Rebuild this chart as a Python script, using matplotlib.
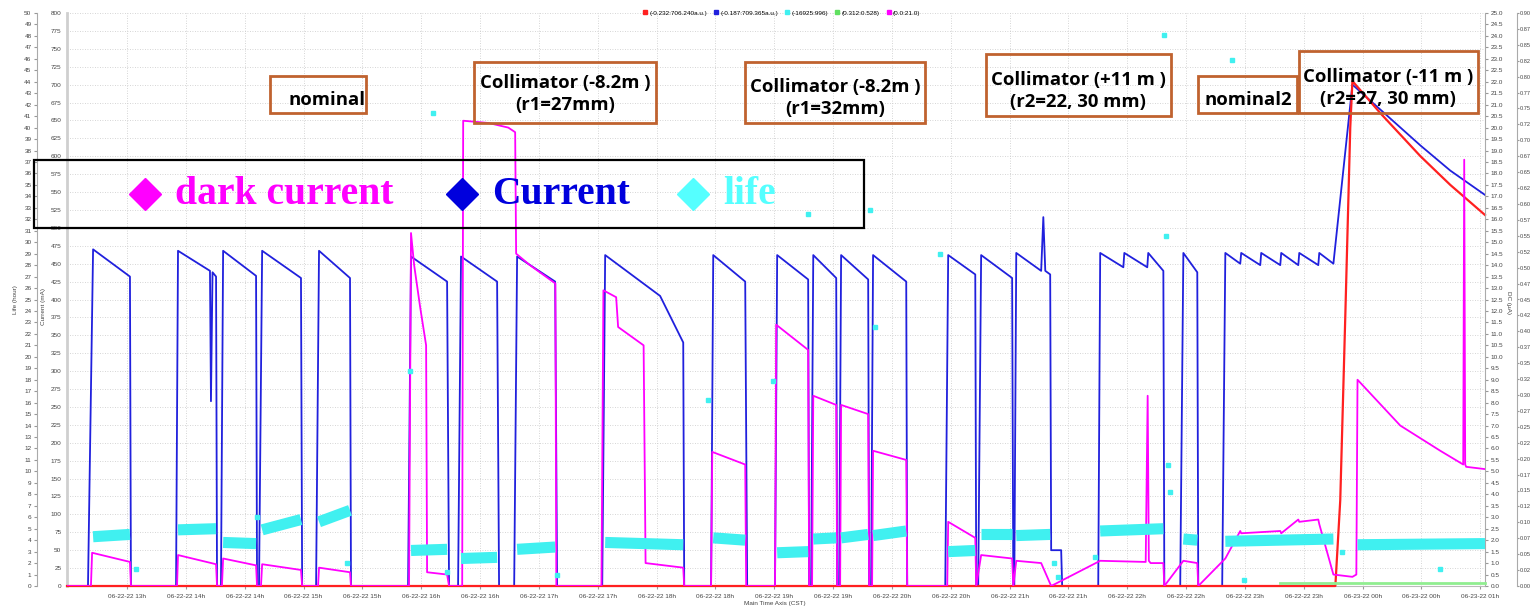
import matplotlib
matplotlib.use("Agg")
import matplotlib.pyplot as plt
from matplotlib.lines import Line2D
from matplotlib.patches import Rectangle

# ---------------- data (time in minutes from left edge of the axis) ----------------
tick_labels = ["06-22-22 13h", "06-22-22 14h", "06-22-22 14h", "06-22-22 15h", "06-22-22 15h",
               "06-22-22 16h", "06-22-22 16h", "06-22-22 17h", "06-22-22 17h", "06-22-22 18h",
               "06-22-22 18h", "06-22-22 19h", "06-22-22 19h", "06-22-22 20h", "06-22-22 20h",
               "06-22-22 21h", "06-22-22 21h", "06-22-22 22h", "06-22-22 22h", "06-22-22 23h",
               "06-22-22 23h", "06-23-22 00h", "06-23-22 00h", "06-23-22 01h"]
tick_minutes = [30.6 + 30 * i for i in range(len(tick_labels))]

# Current (mA), blue
blue_t = [0, 10.7, 13.3, 32.1, 32.6, 55.6, 56.6, 72.9, 73.4, 74.2, 76.0, 76.5,
          78.5, 79.6, 96.4, 96.9, 97.9, 99.5, 119.3, 119.9, 127.0, 128.5, 144.3, 144.8,
          173.9, 175.4, 193.8, 194.8, 199.4, 200.9, 219.3, 220.3, 228.0, 229.5, 248.9, 249.9,
          272.9, 274.4, 302.4, 314.2, 314.7, 328.4, 329.5, 345.8, 346.8, 361.0, 362.1, 377.9,
          378.4, 379.4, 380.5, 392.2, 392.7, 393.7, 394.7, 408.5, 409.0, 410.0, 411.0, 427.9,
          428.4, 447.8, 449.3, 463.1, 463.6, 464.6, 466.1, 481.9, 482.5, 483.0, 484.0, 496.7,
          497.8, 498.8, 501.3, 501.8, 506.9, 507.4, 525.8, 526.8, 538.6, 539.1, 550.8, 551.3,
          559.0, 559.5, 567.6, 569.2, 576.3, 576.8, 589.0, 590.6, 598.2, 598.7, 608.4, 608.9,
          618.6, 619.1, 627.8, 628.3, 638.0, 638.5, 645.7, 655.4, 669.7, 690.1, 705.3, 723.0]
blue_v = [0, 0, 470, 432, 0, 0, 468, 440, 258, 438, 432, 0,
          0, 468, 433, 0, 0, 468, 430, 0, 0, 468, 430, 0,
          0, 460, 425, 0, 0, 460, 425, 0, 0, 460, 425, 0,
          0, 462, 405, 340, 0, 0, 462, 425, 0, 0, 462, 428,
          0, 0, 462, 430, 0, 0, 462, 428, 0, 0, 462, 425,
          0, 0, 462, 435, 0, 0, 462, 430, 0, 0, 465, 440,
          515, 440, 435, 50, 50, 0, 0, 465, 445, 465, 445, 465,
          440, 0, 0, 465, 438, 0, 0, 465, 450, 465, 448, 465,
          448, 465, 448, 465, 448, 465, 450, 700, 665, 615, 580, 546]

# second beam signal (a.u.), red
red_t = [0, 646.7, 649.2, 651.8, 654.3, 655.4, 669.7, 690.1, 705.3, 723.0]
red_v = [0, 0, 120, 380, 640, 705, 660, 600, 560, 518]

# dark current (uA), magenta
mag_t = [0, 12.2, 12.8, 32.1, 32.6, 56.1, 56.6, 76.0, 76.5, 79.0, 79.6, 96.4, 96.9,
         98.9, 99.5, 119.3, 119.9, 128.0, 128.5, 144.3, 144.8,
         174.4, 175.4, 177.0, 180.0, 183.1, 183.6, 193.8, 194.8,
         201.5, 202.0, 215.0, 225.0, 228.5, 229.0, 236.0, 249.0, 249.5,
         272.5, 273.5, 280.0, 281.0, 294.0, 295.0, 314.2, 314.7,
         328.4, 329.0, 345.8, 346.3, 361.0, 361.6, 377.9, 378.4,
         379.9, 380.5, 392.2, 392.7, 394.2, 394.7, 408.5, 409.0, 410.5, 411.0, 427.9, 428.4,
         448.8, 449.3, 463.1, 463.6, 466.1, 481.9, 482.5, 484.0, 496.7, 501.8,
         526.8, 550.0, 551.0, 551.6, 552.5, 559.0, 559.5, 569.2, 576.3, 576.8,
         590.6, 598.2, 598.7, 618.6, 619.1, 627.8, 628.3, 638.0, 638.5, 645.7, 655.4,
         657.4, 658.0, 679.8, 700.2, 711.9, 712.4, 712.9, 713.4, 723.0]
mag_v = [0, 0, 1.45, 1.05, 0, 0, 1.35, 0.95, 0, 0, 1.2, 0.9, 0,
         0, 0.95, 0.7, 0, 0, 0.8, 0.6, 0,
         0, 15.4, 14.0, 12.2, 10.5, 0.6, 0.5, 0,
         0, 20.3, 20.2, 20.0, 19.8, 14.5, 14.0, 13.2, 0,
         0, 12.9, 12.6, 11.3, 10.5, 1.0, 0.8, 0,
         0, 5.85, 5.3, 0, 0, 11.4, 10.3, 0,
         0, 8.3, 7.9, 0, 0, 7.9, 7.5, 0, 0, 5.9, 5.5, 0,
         0, 2.8, 2.1, 0, 1.35, 1.2, 0, 1.1, 1.0, 0,
         1.1, 1.05, 8.3, 1.1, 1.0, 1.0, 0, 1.1, 1.0, 0,
         1.2, 2.4, 2.3, 2.4, 2.3, 2.9, 2.8, 2.9, 2.7, 0.5, 0.4,
         0.5, 9.0, 7.0, 5.9, 5.3, 18.6, 5.3, 5.2, 5.1]

# life (hour), cyan: dense bands (start, end, value at start, value at end) and isolated points
life_seg_t0 = [13.3, 56.6, 79.6, 99.5, 128.5, 175.4, 200.9, 229.5, 274.4, 329.5, 362.1, 380.5,
               394.7, 411.0, 449.3, 466.1, 484.0, 526.8, 569.2, 590.6, 658.0]
life_seg_t1 = [32.1, 76.0, 96.4, 119.3, 144.3, 193.8, 219.3, 248.9, 314.2, 345.8, 377.9, 392.2,
               408.5, 427.9, 463.1, 481.9, 501.3, 559.0, 576.3, 645.7, 723.0]
life_seg_v0 = [4.3, 4.9, 3.8, 4.9, 5.6, 3.1, 2.4, 3.2, 3.8, 4.2, 2.9, 4.1,
               4.2, 4.4, 3.0, 4.5, 4.4, 4.8, 4.1, 3.9, 3.6]
life_seg_v1 = [4.5, 5.0, 3.7, 5.8, 6.6, 3.2, 2.5, 3.4, 3.6, 4.0, 3.0, 4.2,
               4.5, 4.8, 3.1, 4.5, 4.5, 5.0, 4.0, 4.1, 3.7]
life_pts_t = [186.4, 175.0, 327.0, 360.0, 377.9, 409.5, 412.0, 445.0, 559.5, 560.5, 562.5, 594.0,
              35.0, 97.0, 143.0, 194.0, 250.0, 524.0, 600.0, 650.0, 700.0, 503.0, 505.5, 561.5]
life_pts_v = [41.3, 18.8, 16.2, 17.9, 32.5, 32.8, 22.6, 29.0, 48.1, 30.5, 8.2, 45.9,
              1.5, 6.0, 2.0, 1.2, 1.0, 2.5, 0.5, 3.0, 1.5, 2.0, 0.8, 10.6]

# fifth signal, green
green_t = [618.6, 723.0]
green_v = [0.004, 0.004]

legend_labels = ["(-0.232:706.240a.u.)", "(-0.187:709.365a.u.)", "(-16925:996)", "(0.312:0.528)", "(0.0:21.0)"]
legend_colors = ["#ff2020", "#2020dd", "#40f0f0", "#60e060", "#ff00ff"]

notes = ["nominal", "Collimator (-8.2m )\n(r1=27mm)", "Collimator (-8.2m )\n(r1=32mm)",
         "Collimator (+11 m )\n(r2=22, 30 mm)", "nominal2", "Collimator (-11 m )\n(r2=27, 30 mm)"]

key_labels = ["dark current", "Current", "life"]
key_colors = ["#ff00ff", "#0000dd", "#55ffff"]

# ---------------- figure ----------------
W, H = 1532, 609
fig = plt.figure(figsize=(W / 100, H / 100), dpi=100)
L, R, B, T = 67, 1485, 586, 13
pw, ph = R - L, B - T
ax = fig.add_axes([L / W, 1 - B / H, pw / W, ph / H])
ax.set_xlim(0, 723)
ax.set_ylim(0, 800)
ax.set_yticks(range(0, 801, 25))
ax.set_xticks(tick_minutes)
ax.set_xticklabels(tick_labels)
small = dict(fontsize=4.6, family="Liberation Sans", color="#444444")
ax.tick_params(axis="y", length=0, pad=4, labelsize=4.6, labelcolor="#444444")
ax.tick_params(axis="x", length=2.5, pad=3, labelsize=4.6, labelcolor="#444444", color="#999999")
for lab in ax.get_xticklabels() + ax.get_yticklabels():
    lab.set_family("Liberation Sans")
ax.grid(True, color="#c8c8c8", linestyle=(0, (1, 2)), linewidth=0.6)
for s in ["top", "right"]:
    ax.spines[s].set_visible(False)
ax.spines["left"].set_color("#cfcfcf")
ax.spines["left"].set_linewidth(2)
ax.spines["bottom"].set_color("#bbbbbb")
ax.spines["bottom"].set_linewidth(0.8)

ax.plot(blue_t, blue_v, color="#2020dd", lw=1.3, zorder=3)
ax.plot(red_t, red_v, color="#ff2020", lw=1.6, zorder=4, clip_on=False)

# dark current axis (right)
ax_dc = ax.twinx()
ax_dc.set_ylim(0, 25)
ax_dc.set_yticks([i * 0.5 for i in range(51)])
ax_dc.set_yticklabels([f"{i * 0.5:.1f}" for i in range(51)])
ax_dc.tick_params(axis="y", length=2.5, pad=1.5, labelsize=4.6, labelcolor="#444444", color="#999999")
for s in ["top", "left", "bottom"]:
    ax_dc.spines[s].set_visible(False)
ax_dc.spines["right"].set_color("#aaaaaa")
ax_dc.spines["right"].set_linewidth(0.8)
ax_dc.plot(mag_t, mag_v, color="#ff00ff", lw=1.3, zorder=3)

# life axis (left, outer)
ax_life = ax.twinx()
ax_life.set_ylim(0, 50)
ax_life.set_yticks(range(0, 51))
ax_life.spines["right"].set_visible(False)
ax_life.spines["top"].set_visible(False)
ax_life.spines["bottom"].set_visible(False)
ax_life.spines["left"].set_visible(True)
ax_life.spines["left"].set_position(("axes", (37 - L) / pw))
ax_life.spines["left"].set_color("#aaaaaa")
ax_life.spines["left"].set_linewidth(0.8)
ax_life.yaxis.set_ticks_position("left")
ax_life.tick_params(axis="y", length=2.5, pad=1.5, labelsize=4.6, labelcolor="#444444", color="#999999")
for a0, a1, v0, v1 in zip(life_seg_t0, life_seg_t1, life_seg_v0, life_seg_v1):
    ax_life.plot([a0, a1], [v0, v1], color="#40f0f0", lw=8, solid_capstyle="butt", zorder=2)
ax_life.plot(life_pts_t, life_pts_v, linestyle="none", marker="s", ms=2.6, color="#40f0f0", zorder=2)

# green axis (far right)
ax_g = ax.twinx()
ax_g.set_ylim(0, 0.9)
gt = [i * 0.025 for i in range(37)]
ax_g.set_yticks(gt)
ax_g.set_yticklabels([f"{v:.3f}"[:4] for v in gt])
for s in ["top", "left", "bottom"]:
    ax_g.spines[s].set_visible(False)
ax_g.spines["right"].set_position(("axes", (1517 - L) / pw))
ax_g.spines["right"].set_color("#aaaaaa")
ax_g.spines["right"].set_linewidth(0.8)
ax_g.tick_params(axis="y", length=1.5, pad=0.8, labelsize=4.1, labelcolor="#444444", color="#999999")
ax_g.plot(green_t, green_v, color="#90ee90", lw=2, clip_on=False)

for a in (ax_dc, ax_life, ax_g):
    for lab in a.get_yticklabels():
        lab.set_family("Liberation Sans")

# axis titles
fig.text(16 / W, 1 - 300 / H, "Life (hour)", rotation=90, ha="center", va="center", **small)
fig.text(43 / W, 1 - 306 / H, "Current (mA)", rotation=90, ha="center", va="center", **small)
fig.text(1509 / W, 1 - 303 / H, "DC (\u00b5A)", rotation=270, ha="center", va="center", **small)
fig.text(775 / W, 1 - 604 / H, "Main Time Axis (CST)", ha="center", va="center", **small)

# top legend
handles = [Line2D([], [], linestyle="none", marker="s", ms=2.6, color=c) for c in legend_colors]
fig.legend(handles, legend_labels, loc="center", bbox_to_anchor=(782 / W, 1 - 13 / H), ncol=5,
           frameon=False, prop=dict(family="Liberation Sans", size=4.6), handlelength=0.5,
           handletextpad=0.4, columnspacing=1.2, borderpad=0)

# annotation boxes
boxes = [(270, 366, 76, 113), (474, 656, 62, 123), (745, 925, 62, 123),
         (986, 1171, 54, 116), (1198, 1297, 76, 113), (1299, 1478, 51, 113)]
text_cx = [327, 565, 835, 1078, 1248, 1388]
text_cy = [100, 94, 98, 91, 100, 88]
for (x0, x1, y0, y1), cx, cy, txt in zip(boxes, text_cx, text_cy, notes):
    fig.patches.append(Rectangle((x0 / W, 1 - y1 / H), (x1 - x0) / W, (y1 - y0) / H,
                                 transform=fig.transFigure, fill=False, edgecolor="#c0622f", lw=2))
    fig.text(cx / W, 1 - cy / H, txt, ha="center", va="center",
             family="Open Sans", fontweight="bold", fontsize=13.3, linespacing=1.3)

# big key box
fig.patches.append(Rectangle((34 / W, 1 - 228 / H), (864 - 34) / W, (228 - 160) / H,
                             transform=fig.transFigure, fill=False, edgecolor="black", lw=1.6))
key_x = [145, 462, 693]
for kx, lab, c in zip(key_x, key_labels, key_colors):
    fig.add_artist(Line2D([kx / W], [1 - 194 / H], marker="D", ms=16.5, color=c, linestyle="none",
                          transform=fig.transFigure))
    fig.text((kx + 30) / W, 1 - 194 / H, lab, ha="left", va="center", color=c,
             family="Liberation Serif", fontweight="bold", fontsize=28.5)

fig.savefig("out.png", dpi=100)
